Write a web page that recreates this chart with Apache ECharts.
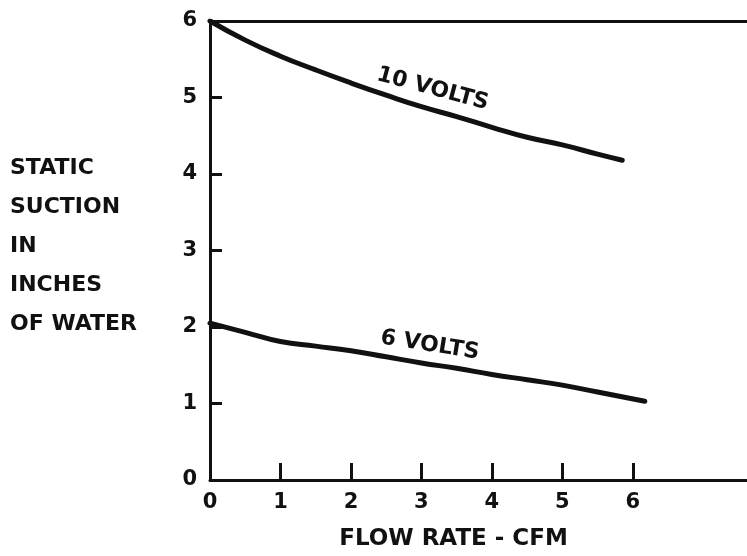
<!DOCTYPE html>
<html>
<head>
<meta charset="utf-8">
<script src="https://cdn.jsdelivr.net/npm/echarts@6/dist/echarts.min.js"></script>
<style>
  html, body { margin: 0; padding: 0; background: #fff; }
  #main { width: 747px; height: 556px; }
</style>
</head>
<body>
<div id="main"></div>
<script>
// flow rate (CFM) and static suction (inches of water)
const flow10 = [0, 0.5, 1, 1.5, 2, 2.5, 3, 3.5, 4, 4.5, 5, 5.5, 5.85];
const suction10 = [6.0, 5.75, 5.54, 5.36, 5.19, 5.03, 4.88, 4.75, 4.61, 4.48, 4.38, 4.26, 4.18];
const flow6 = [0, 0.5, 1, 1.5, 2, 2.5, 3, 3.5, 4, 4.5, 5, 5.5, 6.17];
const suction6 = [2.05, 1.93, 1.81, 1.75, 1.69, 1.61, 1.53, 1.46, 1.38, 1.31, 1.24, 1.15, 1.03];
const xTicks = [0, 1, 2, 3, 4, 5, 6];
const yTicks = [0, 1, 2, 3, 4, 5, 6];
const yTickMarks = [1, 2, 3, 4, 5];
const yTitleLines = ['STATIC', 'SUCTION', 'IN', 'INCHES', 'OF WATER'];

const ink = '#111';
const font = 'DejaVu Sans';

const chart = echarts.init(document.getElementById('main'));

function pairs(xs, ys) {
  return xs.map((x, i) => [x, ys[i]]);
}

chart.setOption({
  animation: false,
  backgroundColor: '#fff',
  grid: { left: 210, top: 21, right: 0, bottom: 69 },
  xAxis: [{
    type: 'value',
    min: 0,
    max: 7.62,
    interval: 1,
    splitLine: { show: false },
    axisLine: { lineStyle: { color: ink, width: 3 } },
    axisTick: { inside: true, length: 17, customValues: xTicks.slice(1), lineStyle: { color: ink, width: 3 } },
    axisLabel: { customValues: xTicks, margin: 12, color: ink, fontFamily: font, fontWeight: 'bold', fontSize: 21 },
    name: 'FLOW RATE - CFM',
    nameLocation: 'middle',
    nameGap: 48,
    nameTextStyle: { color: ink, fontFamily: font, fontWeight: 'bold', fontSize: 23, padding: [0, 50, 0, 0] }
  }, {
    type: 'value',
    position: 'top',
    min: 0,
    max: 7.62,
    splitLine: { show: false },
    axisLine: { show: true, lineStyle: { color: ink, width: 3 } },
    axisTick: { show: false },
    axisLabel: { show: false }
  }],
  yAxis: {
    type: 'value',
    min: 0,
    max: 6,
    interval: 1,
    splitLine: { show: false },
    axisLine: { show: true, lineStyle: { color: ink, width: 3 } },
    axisTick: { show: true, inside: true, length: 12, customValues: yTickMarks, lineStyle: { color: ink, width: 3 } },
    axisLabel: { customValues: yTicks, margin: 13, color: ink, fontFamily: font, fontWeight: 'bold', fontSize: 21 }
  },
  graphic: [{
    type: 'group',
    left: 10,
    top: 157,
    children: yTitleLines.map((t, i) => ({
      type: 'text',
      x: 0,
      y: i * 39,
      style: { text: t, fill: ink, font: 'bold 22px "DejaVu Sans"' }
    }))
  }],
  series: [{
    name: '10 VOLTS',
    type: 'line',
    data: pairs(flow10, suction10),
    smooth: true,
    showSymbol: false,
    lineStyle: { color: ink, width: 5, cap: 'round' },
    markPoint: {
      symbol: 'circle',
      symbolSize: 0,
      data: [{ coord: [3.16, 5.11] }],
      label: { show: true, formatter: '10 VOLTS', rotate: -15, position: 'inside', color: ink, fontFamily: font, fontWeight: 'bold', fontSize: 22 }
    }
  }, {
    name: '6 VOLTS',
    type: 'line',
    data: pairs(flow6, suction6),
    smooth: true,
    showSymbol: false,
    lineStyle: { color: ink, width: 5, cap: 'round' },
    markPoint: {
      symbol: 'circle',
      symbolSize: 0,
      data: [{ coord: [3.12, 1.76] }],
      label: { show: true, formatter: '6 VOLTS', rotate: -9, position: 'inside', color: ink, fontFamily: font, fontWeight: 'bold', fontSize: 22 }
    }
  }]
});
</script>
</body>
</html>
